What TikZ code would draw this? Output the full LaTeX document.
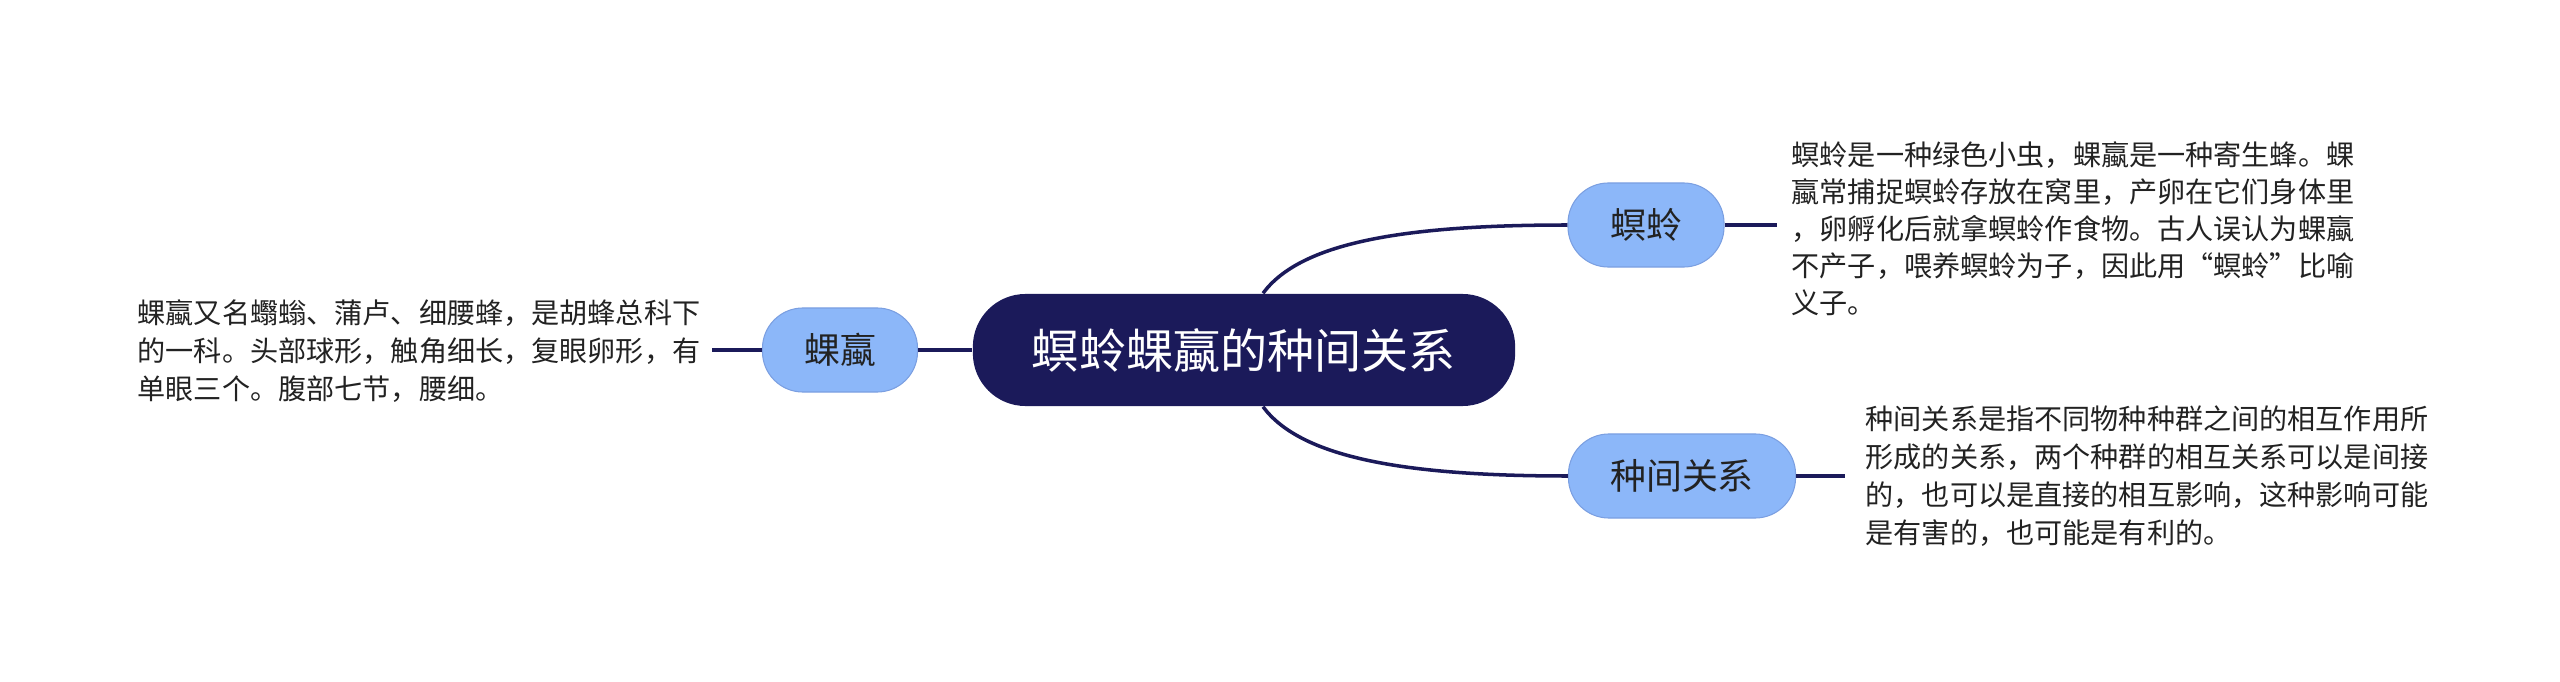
\documentclass[tikz,border=0pt]{standalone}
\usepackage{fontspec}
\setmainfont{Noto Sans CJK SC}
\usetikzlibrary{calc}
\definecolor{navy}{HTML}{1B1A5A}
\definecolor{leaf}{HTML}{8CB7F9}
\definecolor{txt}{HTML}{222222}
\tikzset{
  root/.style={fill=navy, text=white, rounded corners=15pt, minimum width=5.42cm, minimum height=1.12cm, inner sep=0pt, font=\fontsize{13.4}{16}\selectfont},
  sub/.style={fill=leaf, draw=leaf!85!navy, line width=0.3pt, text=txt, rounded corners=11.5pt, minimum height=0.84cm, inner sep=0pt, font=\fontsize{10.2}{12}\selectfont},
  desc/.style={anchor=west, align=left, inner sep=0pt, text=txt, font=\fontsize{8}{10.75}\selectfont},
  link/.style={draw=navy, line width=1pt},
}
\begin{document}
\begin{tikzpicture}[x=0.01cm, y=-0.01cm]
\useasboundingbox (0,0) rectangle (2560,682);
\node[root] (c) at (1244,350) {螟蛉蜾蠃的种间关系};
\node[sub, minimum width=1.55cm] (l) at (840,350) {蜾蠃};
\node[sub, minimum width=1.56cm] (m) at (1646,225) {螟蛉};
\node[sub, minimum width=2.27cm] (g) at (1682,476) {种间关系};

\node[desc] (ld) at (137,351) {蜾蠃又名蠮螉、蒲卢、细腰蜂，是胡蜂总科下\\的一科。头部球形，触角细长，复眼卵形，有\\单眼三个。腹部七节，腰细。};
\node[desc, font=\fontsize{8}{10.5}\selectfont] (md) at (1791,229) {螟蛉是一种绿色小虫，蜾蠃是一种寄生蜂。蜾\\蠃常捕捉螟蛉存放在窝里，产卵在它们身体里\\，卵孵化后就拿螟蛉作食物。古人误认为蜾蠃\\不产子，喂养螟蛉为子，因此用“螟蛉”比喻\\义子。};
\node[desc] (gd) at (1865,476) {种间关系是指不同物种种群之间的相互作用所\\形成的关系，两个种群的相互关系可以是间接\\的，也可以是直接的相互影响，这种影响可能\\是有害的，也可能是有利的。};

\coordinate (le) at (712,350);
\coordinate (me) at (1777,225);
\coordinate (ge) at (1845,476);

\draw[link] (c.west) -- (l.east);
\draw[link] (l.west) -- (le);
\draw[link] ($(c.north)+(19,0)$) .. controls +(37,-50) and +(-167,0) .. (m.west);
\draw[link] ($(c.south)+(19,0)$) .. controls +(37,50) and +(-167,0) .. (g.west);
\draw[link] (m.east) -- (me);
\draw[link] (g.east) -- (ge);
\end{tikzpicture}
\end{document}
